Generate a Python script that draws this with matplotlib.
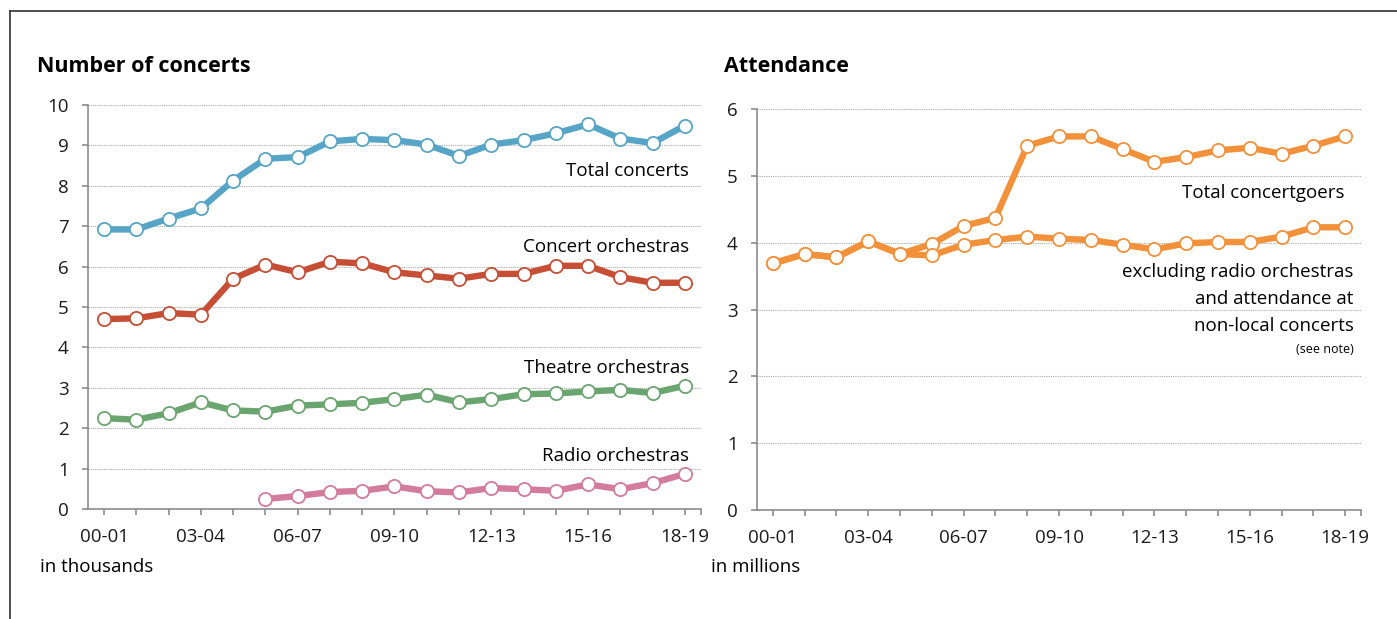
import matplotlib
matplotlib.use("Agg")
import matplotlib.pyplot as plt
from matplotlib.lines import Line2D

plt.rcParams['font.family'] = ['Open Sans', 'DejaVu Sans']

# seizoenen
seasons = ['00-01', '01-02', '02-03', '03-04', '04-05', '05-06', '06-07', '07-08', '08-09', '09-10',
           '10-11', '11-12', '12-13', '13-14', '14-15', '15-16', '16-17', '17-18', '18-19']

# aantal concerten (x 1000)
total_concerts = [6.92, 6.92, 7.19, 7.44, 8.13, 8.67, 8.71, 9.10, 9.16, 9.13,
                  9.02, 8.74, 9.02, 9.13, 9.30, 9.52, 9.17, 9.06, 9.49]
concert_orch = [4.70, 4.72, 4.85, 4.81, 5.70, 6.05, 5.86, 6.12, 6.08, 5.86,
                5.78, 5.70, 5.82, 5.82, 6.02, 6.02, 5.74, 5.60, 5.60]
theatre_orch = [2.25, 2.21, 2.37, 2.64, 2.44, 2.41, 2.56, 2.59, 2.63, 2.72,
                2.83, 2.64, 2.72, 2.84, 2.86, 2.91, 2.95, 2.87, 3.05]
radio_orch = [None, None, None, None, None, 0.25, 0.32, 0.42, 0.45, 0.56,
              0.44, 0.41, 0.52, 0.49, 0.45, 0.61, 0.49, 0.64, 0.87]

# bezoekers (x 1 mln)
total_goers = [3.69, 3.83, 3.78, 4.02, 3.83, 3.98, 4.25, 4.37, 5.45, 5.59,
               5.59, 5.40, 5.21, 5.28, 5.38, 5.42, 5.33, 5.45, 5.59]
excl_goers = [3.69, 3.83, 3.78, 4.02, 3.83, 3.81, 3.97, 4.04, 4.09, 4.06,
              4.04, 3.97, 3.90, 3.99, 4.01, 4.01, 4.09, 4.23, 4.23]

W, H = 1397, 619
fig = plt.figure(figsize=(W / 100, H / 100), dpi=100)

# kader
fig.add_artist(Line2D([10 / W, 10 / W], [0, 1 - 11 / H], color='#404040', lw=1.3))
fig.add_artist(Line2D([10 / W, 1], [1 - 11 / H, 1 - 11 / H], color='#404040', lw=1.3))

ax1 = fig.add_axes([88 / W, 110 / H, 613 / W, 404 / H])
ax2 = fig.add_axes([757 / W, 109 / H, 604 / W, 401 / H])

x = list(range(len(seasons)))


def serie(ax, y, kleur):
    xs = [i for i, v in zip(x, y) if v is not None]
    ys = [v for v in y if v is not None]
    ax.plot(xs, ys, color=kleur, lw=4.6, marker='o', ms=9.5, mfc='white', mec=kleur, mew=1.3,
            solid_joinstyle='round', zorder=3)


def opmaak(ax, ymax):
    ax.set_xlim(-0.5, 18.5)
    ax.set_ylim(0, ymax)
    ax.set_yticks(range(0, ymax + 1))
    ax.set_xticks(x + [18.5])
    ax.set_xticklabels([s if i % 3 == 0 else '' for i, s in enumerate(seasons)] + [''])
    for s in ['top', 'right']:
        ax.spines[s].set_visible(False)
    for s in ['left', 'bottom']:
        ax.spines[s].set_color('#8c8c8c')
        ax.spines[s].set_linewidth(1.2)
    ax.tick_params(axis='both', colors='#8c8c8c', length=4, width=1.2, labelsize=13.5,
                   labelcolor='#1a1a1a')
    ax.tick_params(axis='y', pad=10)
    ax.tick_params(axis='x', pad=10)
    ax.grid(axis='y', color='#a8a8a8', linestyle=(0, (1, 1)), lw=0.8)
    ax.set_axisbelow(True)


serie(ax1, total_concerts, '#57a5c6')
serie(ax1, concert_orch, '#c54e34')
serie(ax1, theatre_orch, '#6aa56f')
serie(ax1, radio_orch, '#d27b9b')
opmaak(ax1, 10)

serie(ax2, total_goers, '#f3913b')
serie(ax2, excl_goers, '#f3913b')
opmaak(ax2, 6)

fs = 13.5
ax1.text(18.13, 8.37, 'Total concerts', ha='right', va='center', fontsize=fs)
ax1.text(18.13, 6.49, 'Concert orchestras', ha='right', va='center', fontsize=fs)
ax1.text(18.13, 3.49, 'Theatre orchestras', ha='right', va='center', fontsize=fs)
ax1.text(18.13, 1.31, 'Radio orchestras', ha='right', va='center', fontsize=fs)

ax2.text(17.98, 4.75, 'Total concertgoers', ha='right', va='center', fontsize=fs)
ax2.text(18.27, 3.56, 'excluding radio orchestras', ha='right', va='center', fontsize=fs)
ax2.text(18.27, 3.16, 'and attendance at', ha='right', va='center', fontsize=fs)
ax2.text(18.27, 2.75, 'non-local concerts', ha='right', va='center', fontsize=fs)
ax2.text(18.27, 2.40, '(see note)', ha='right', va='center', fontsize=9)

fig.text(37 / W, 1 - 66 / H, 'Number of concerts', fontsize=15.5, fontweight='bold', va='center')
fig.text(724 / W, 1 - 66 / H, 'Attendance', fontsize=15.5, fontweight='bold', va='center')
fig.text(40 / W, 1 - 567 / H, 'in thousands', fontsize=fs, va='center')
fig.text(711 / W, 1 - 567 / H, 'in millions', fontsize=fs, va='center')

fig.savefig('out.png', dpi=100)
